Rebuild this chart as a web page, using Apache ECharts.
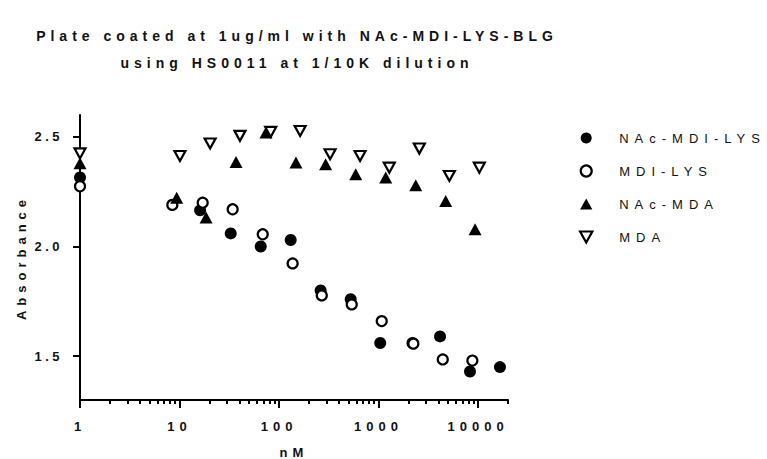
<!DOCTYPE html>
<html>
<head>
<meta charset="utf-8">
<script src="https://cdn.jsdelivr.net/npm/echarts@6/dist/echarts.min.js"></script>
<style>
  html, body { margin: 0; padding: 0; background: #fff; }
  #main { width: 767px; height: 459px; }
  #main svg text { letter-spacing: 5px; }
  #main svg text[text-anchor="end"] { letter-spacing: 3.5px; }
  #main svg text:not([text-anchor="middle"]):not([text-anchor="end"]) { letter-spacing: 6px; }
</style>
</head>
<body>
<div id="main"></div>
<script>
// ---- data ----
const seriesNames = ['NAc-MDI-LYS', 'MDI-LYS', 'NAc-MDA', 'MDA'];

const xNAcMDILYS = [1, 16.1, 32.7, 65.5, 131, 262, 525, 1040, 2190, 4150, 8300, 16600];
const yNAcMDILYS = [2.315, 2.165, 2.06, 2.00, 2.03, 1.80, 1.76, 1.56, 1.56, 1.59, 1.43, 1.45];

const xMDILYS = [1, 8.47, 17.1, 34.2, 68.6, 137, 269, 538, 1077, 2238, 4420, 8770];
const yMDILYS = [2.275, 2.19, 2.20, 2.17, 2.056, 1.923, 1.777, 1.736, 1.66, 1.557, 1.485, 1.48];

const xNAcMDA = [1, 9.37, 18.5, 37, 74, 148, 294, 590, 1181, 2366, 4730, 9330];
const yNAcMDA = [2.38, 2.223, 2.132, 2.386, 2.52, 2.383, 2.375, 2.33, 2.315, 2.279, 2.208, 2.079];

const xMDA = [1, 10.1, 20.3, 40.5, 82.5, 163, 326, 652, 1283, 2570, 5150, 10300];
const yMDA = [2.425, 2.413, 2.47, 2.505, 2.523, 2.527, 2.421, 2.413, 2.36, 2.447, 2.322, 2.36];

const xMajorTicks = [1, 10, 100, 1000, 10000];
const xMinorTicks = [2, 3, 4, 5, 6, 7, 8, 9, 20, 30, 40, 50, 60, 70, 80, 90,
  200, 300, 400, 500, 600, 700, 800, 900, 2000, 3000, 4000, 5000, 6000, 7000, 8000, 9000, 20000];
const yTicks = [1.5, 2.0, 2.5];

const titleText = 'Plate coated at 1ug/ml with NAc-MDI-LYS-BLG\nusing HS0011 at 1/10K dilution';
const xName = 'nM';
const yName = 'Absorbance';

// ---- chart ----
const FONT = "'Liberation Sans', Arial, sans-serif";
const BLACK = '#000';
const TXT = '#111';
const downTri = 'path://M0,0L20,0L10,18Z';
const upTri = 'path://M10,0L20,18L0,18Z';

function pairs(xs, ys) { return xs.map((x, i) => [x, ys[i]]); }

const chart = echarts.init(document.getElementById('main'), null, { renderer: 'svg', width: 767, height: 459 });

const option = {
  animation: false,
  backgroundColor: '#fff',
  title: {
    text: titleText,
    left: 297,
    top: 22,
    padding: 0,
    textAlign: 'center',
    textStyle: { fontFamily: FONT, fontSize: 14, fontWeight: 'bold', color: TXT, lineHeight: 27 }
  },
  legend: {
    orient: 'vertical',
    left: 574,
    top: 126,
    itemWidth: 56,
    itemHeight: 11,
    itemGap: 19,
    symbolKeepAspect: true,
    data: [
      { name: seriesNames[0], icon: 'circle' },
      { name: seriesNames[1], icon: 'circle', itemStyle: { color: '#fff', borderColor: BLACK, borderWidth: 2.2 } },
      { name: seriesNames[2], icon: upTri },
      { name: seriesNames[3], icon: downTri, itemStyle: { color: '#fff', borderColor: BLACK, borderWidth: 2.2 } }
    ],
    textStyle: { fontFamily: FONT, fontSize: 13, color: TXT, lineHeight: 14 }
  },
  grid: { left: 80, right: 259, top: 115, bottom: 59, containLabel: false, outerBoundsMode: 'none' },
  xAxis: [
    {
      type: 'log', logBase: 10, min: 1, max: 20000, position: 'bottom',
      name: xName, nameLocation: 'middle', nameGap: 45.5,
      nameTextStyle: { fontFamily: FONT, fontSize: 13, fontWeight: 'bold', color: TXT },
      axisLine: { show: true, lineStyle: { color: BLACK, width: 2 } },
      axisTick: { show: true, inside: false, length: 8, lineStyle: { color: BLACK, width: 2 }, customValues: xMajorTicks },
      axisLabel: { show: true, margin: 19.5, fontFamily: FONT, fontSize: 13, fontWeight: 'bold', color: TXT,
        customValues: xMajorTicks, formatter: v => String(Math.round(v)) },
      splitLine: { show: false }, minorTick: { show: false }
    },
    {
      type: 'log', logBase: 10, min: 1, max: 20000, position: 'bottom',
      axisLine: { show: false },
      axisTick: { show: true, inside: false, length: 4, lineStyle: { color: BLACK, width: 2 }, customValues: xMinorTicks },
      axisLabel: { show: false },
      splitLine: { show: false }
    }
  ],
  yAxis: {
    type: 'value', min: 1.3, max: 2.6,
    name: yName, nameLocation: 'middle', nameGap: 52, nameRotate: 90,
    nameTextStyle: { fontFamily: FONT, fontSize: 13, fontWeight: 'bold', color: TXT },
    axisLine: { show: true, lineStyle: { color: BLACK, width: 2 } },
    axisTick: { show: true, inside: false, length: 7, lineStyle: { color: BLACK, width: 2 }, customValues: yTicks },
    axisLabel: { show: true, margin: 17, fontFamily: FONT, fontSize: 13, fontWeight: 'bold', color: TXT,
      customValues: yTicks, formatter: v => v.toFixed(1) },
    splitLine: { show: false }
  },
  series: [
    {
      name: seriesNames[0], type: 'scatter', xAxisIndex: 0, data: pairs(xNAcMDILYS, yNAcMDILYS),
      symbol: 'circle', symbolSize: 12, itemStyle: { color: BLACK, opacity: 1 }, clip: false
    },
    {
      name: seriesNames[1], type: 'scatter', xAxisIndex: 0, data: pairs(xMDILYS, yMDILYS),
      symbol: 'circle', symbolSize: 10, itemStyle: { color: '#fff', borderColor: BLACK, borderWidth: 2.2, opacity: 1 }, clip: false
    },
    {
      name: seriesNames[2], type: 'scatter', xAxisIndex: 0, data: pairs(xNAcMDA, yNAcMDA),
      symbol: 'triangle', symbolSize: [13, 12], itemStyle: { color: BLACK, opacity: 1 }, clip: false
    },
    {
      name: seriesNames[3], type: 'scatter', xAxisIndex: 0, data: pairs(xMDA, yMDA),
      symbol: downTri, symbolSize: [11, 10], symbolKeepAspect: false,
      itemStyle: { color: '#fff', borderColor: BLACK, borderWidth: 2.2, opacity: 1 }, clip: false
    }
  ]
};
chart.setOption(option);
</script>
</body>
</html>
